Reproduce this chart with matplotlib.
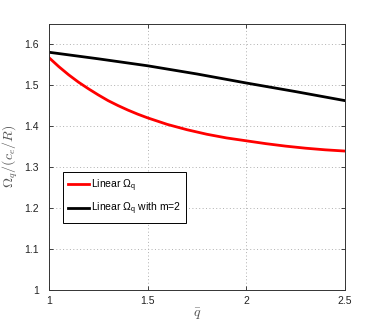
import numpy as np
import matplotlib
matplotlib.use('Agg')
import matplotlib.pyplot as plt

plt.rcParams['font.family'] = ['Liberation Sans', 'DejaVu Sans']
plt.rcParams['mathtext.fontset'] = 'custom'
plt.rcParams['mathtext.rm'] = 'Liberation Sans'
plt.rcParams['mathtext.it'] = 'Liberation Sans'
plt.rcParams['mathtext.sf'] = 'Liberation Sans'

# values
q_red = [1.0, 1.05, 1.1, 1.15, 1.2, 1.25, 1.3, 1.35, 1.4, 1.45, 1.5,
         1.6, 1.7, 1.8, 1.9, 2.0, 2.1, 2.2, 2.3, 2.4, 2.5]
om_red = [1.567, 1.545, 1.525, 1.507, 1.491, 1.476, 1.462, 1.450, 1.439, 1.429, 1.420,
          1.404, 1.391, 1.380, 1.371, 1.364, 1.357, 1.351, 1.346, 1.342, 1.339]
q_blk = [1.0, 1.25, 1.5, 1.75, 2.0, 2.25, 2.5]
om_blk = [1.580, 1.564, 1.547, 1.527, 1.505, 1.484, 1.462]

xticks = [1, 1.5, 2, 2.5]
xticklabels = ['1', '1.5', '2', '2.5']
yticks = [1, 1.1, 1.2, 1.3, 1.4, 1.5, 1.6]
yticklabels = ['1', '1.1', '1.2', '1.3', '1.4', '1.5', '1.6']

fig = plt.figure(figsize=(3.82, 3.27), dpi=100)
ax = fig.add_axes([0.128, 0.113, 0.775, 0.815])

ax.plot(q_red, om_red, color='#ff0000', lw=2.0, label=r'Linear $\Omega_q$')
ax.plot(q_blk, om_blk, color='black', lw=2.0, label=r'Linear $\Omega_q$ with m=2')

ax.set_xlim(1, 2.5)
ax.set_ylim(1, 1.65)
ax.set_xticks(xticks)
ax.set_xticklabels(xticklabels)
ax.set_yticks(yticks)
ax.set_yticklabels(yticklabels)
ax.tick_params(direction='in', length=3, labelsize=7.5, top=True, right=True,
               width=0.6, colors='#222222')
ax.tick_params(axis='y', pad=7)
ax.tick_params(axis='x', pad=4)
ax.grid(True, linestyle=(0, (1, 2.5)), color='#b0b0b0', lw=0.7)
for s in ax.spines.values():
    s.set_linewidth(0.7)
    s.set_color('#333333')

ax.set_xlabel(r'$\bar{q}$', math_fontfamily='cm', fontsize=10, color='#555555', labelpad=1)
ax.set_ylabel(r'$\Omega_q/(c_e/R)$', math_fontfamily='cm', fontsize=10, color='#555555')
ax.yaxis.set_label_coords(-0.098, 0.5)

leg = ax.legend(loc='upper left', bbox_to_anchor=(0.165, 0.474), bbox_transform=fig.transFigure,
                borderaxespad=0, fontsize=7.5, handlelength=2.0, handletextpad=0.15,
                fancybox=False, edgecolor='black', framealpha=1, labelspacing=0.7,
                borderpad=0.5)
leg.get_frame().set_linewidth(0.7)

fig.savefig('out.png', dpi=100)
